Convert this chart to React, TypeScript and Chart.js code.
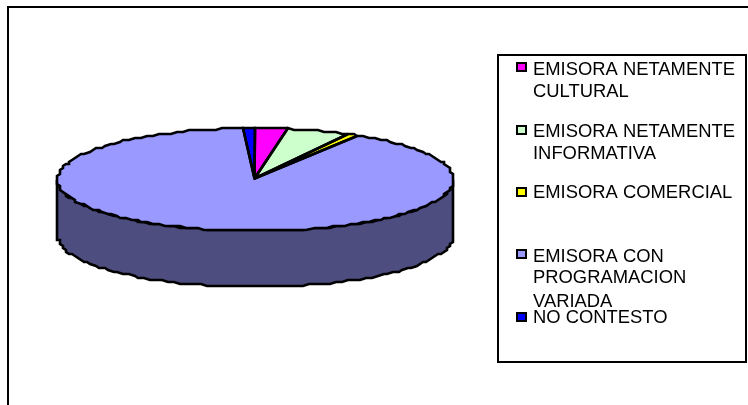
import React, { useEffect, useRef } from "react";
import { Chart, ArcElement, PieController } from "chart.js";

Chart.register(ArcElement, PieController);

const categories = [
  "EMISORA NETAMENTE CULTURAL",
  "EMISORA NETAMENTE INFORMATIVA",
  "EMISORA COMERCIAL",
  "EMISORA CON PROGRAMACION VARIADA",
  "NO CONTESTO",
];
const legendLines = [
  ["EMISORA NETAMENTE", "CULTURAL"],
  ["EMISORA NETAMENTE", "INFORMATIVA"],
  ["EMISORA COMERCIAL"],
  ["EMISORA CON", "PROGRAMACION", "VARIADA"],
  ["NO CONTESTO"],
];
const shares = [2.6, 5.2, 0.9, 90.3, 1.0];
const sliceColors = ["#FF00FF", "#CCFFCC", "#FFFF00", "#9999FF", "#0000FF"];
const rimColors = ["#800080", "#668066", "#808000", "#4D4D80", "#000080"];

const FONT = '18.4px "Liberation Sans", Arial, sans-serif';
const SQUASH = 0.26;
const FACE_Y = 179.5;
const DEPTH = 56;
const PIE_LINE = 2.6;

// Projects an angle on the flattened top face, snapped to a coarse pixel grid.
function rimPoint(cx: number, r: number, a: number, drop = 0): [number, number] {
  const x = cx + r * Math.cos(a);
  const y = FACE_Y + r * SQUASH * Math.sin(a) + drop;
  return [Math.round(x / 3) * 3, Math.round(y / 2) * 2];
}

function traceArc(ctx: CanvasRenderingContext2D, cx: number, r: number, from: number, to: number, drop = 0) {
  const steps = Math.max(1, Math.ceil(Math.abs(to - from) / 0.035));
  for (let i = 0; i <= steps; i++) {
    const [x, y] = rimPoint(cx, r, from + ((to - from) * i) / steps, drop);
    ctx.lineTo(x, y);
  }
}

const arcProps = (arc: any) => arc.getProps(["x", "y", "startAngle", "endAngle", "outerRadius"], true);

function outlineStyle(ctx: CanvasRenderingContext2D) {
  ctx.lineWidth = PIE_LINE;
  ctx.strokeStyle = "#000";
  ctx.lineJoin = "miter";
  ctx.miterLimit = 2;
}

// Side wall of the disc: only the front half of each slice is visible.
const wallPlugin = {
  id: "wall",
  beforeDatasetsDraw(chart: any) {
    const { ctx } = chart;
    ctx.save();
    outlineStyle(ctx);
    chart.getDatasetMeta(0).data.forEach((arc: any, i: number) => {
      const p = arcProps(arc);
      const a0 = Math.max(p.startAngle, 0);
      const a1 = Math.min(p.endAngle, Math.PI);
      if (a1 <= a0) return;
      ctx.beginPath();
      traceArc(ctx, p.x, p.outerRadius, a0, a1, 0);
      traceArc(ctx, p.x, p.outerRadius, a1, a0, DEPTH);
      ctx.closePath();
      ctx.fillStyle = rimColors[i];
      ctx.fill();
      ctx.stroke();
    });
    ctx.restore();

    // The top face is drawn by the arc elements under this flattening transform.
    const first = arcProps(chart.getDatasetMeta(0).data[0]);
    ctx.save();
    ctx.translate(first.x, FACE_Y);
    ctx.scale(1, SQUASH);
    ctx.translate(-first.x, -first.y);
  },
  afterDatasetsDraw(chart: any) {
    const { ctx } = chart;
    ctx.restore();
    ctx.save();
    outlineStyle(ctx);
    chart.getDatasetMeta(0).data.forEach((arc: any) => {
      const p = arcProps(arc);
      ctx.beginPath();
      ctx.moveTo(p.x - 1, FACE_Y - 1);
      traceArc(ctx, p.x, p.outerRadius, p.startAngle, p.endAngle);
      ctx.closePath();
      ctx.stroke();
    });
    ctx.restore();
  },
};

// Outer frame, legend box and legend entries.
const framePlugin = {
  id: "frame",
  afterDraw(chart: any) {
    const { ctx } = chart;
    const rows = [75, 137, 198, 262, 323];
    const swatches = [63, 126, 188, 250, 313];
    const gaps = [
      [0, 22],
      [0, 22],
      [0],
      [0, 21, 45],
      [0],
    ];
    ctx.save();
    ctx.strokeStyle = "#000";
    ctx.lineWidth = 2;
    ctx.strokeRect(8, 7, 800, 500);
    ctx.fillStyle = "#fff";
    ctx.fillRect(498, 55, 248, 307);
    ctx.strokeRect(498, 55, 248, 307);

    ctx.font = FONT;
    ctx.textBaseline = "alphabetic";
    categories.forEach((_, i) => {
      ctx.fillStyle = sliceColors[i];
      ctx.fillRect(517, swatches[i], 9, 8);
      ctx.strokeRect(517, swatches[i], 9, 8);
      ctx.fillStyle = "#000";
      legendLines[i].forEach((line, j) => ctx.fillText(line, 533, rows[i] + gaps[i][j]));
    });
    ctx.restore();
  },
};

export default function App() {
  const ref = useRef<HTMLCanvasElement>(null);

  useEffect(() => {
    document.body.style.margin = "0";
    const chart = new Chart(ref.current!, {
      type: "pie",
      data: {
        labels: categories,
        datasets: [{ data: shares, backgroundColor: sliceColors, borderWidth: 0 }],
      },
      options: {
        animation: false,
        responsive: false,
        layout: { padding: { left: 0, right: 237, top: 4.5, bottom: 4.5 } },
        plugins: { legend: { display: false }, tooltip: { enabled: false } },
      },
      plugins: [wallPlugin, framePlugin],
    } as any);
    return () => chart.destroy();
  }, []);

  return (
    <canvas
      ref={ref}
      width={748}
      height={405}
      style={{ display: "block", width: 748, height: 405, background: "#fff" }}
    />
  );
}
